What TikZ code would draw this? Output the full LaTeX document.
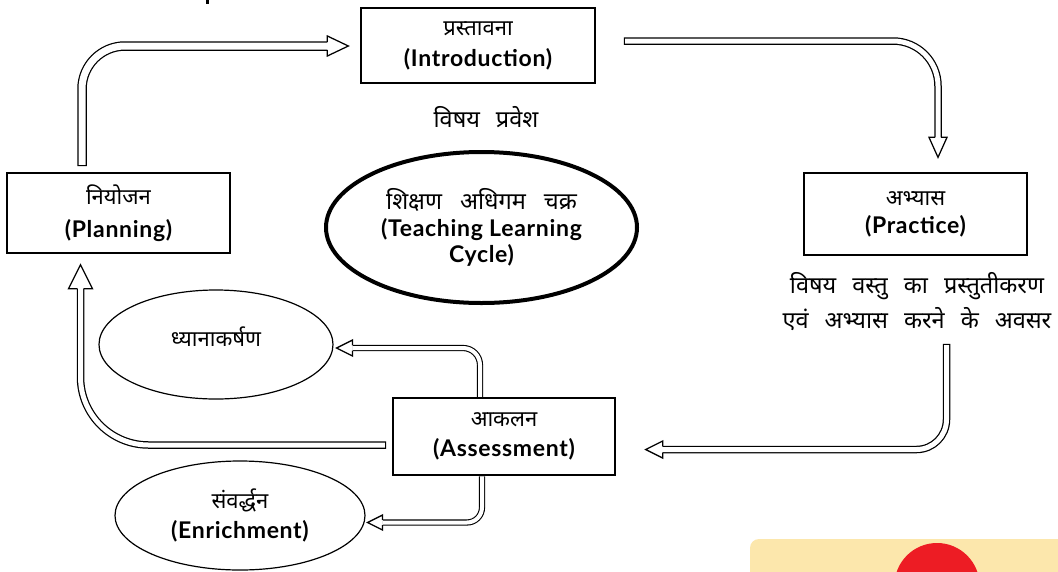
\documentclass[tikz,border=0pt]{standalone}
\usepackage{fontspec}
\setmainfont{Lato}
\newfontfamily\en{Lato}[LetterSpace=3.0]
\newfontfamily\dev[Script=Devanagari]{Noto Sans}
\usetikzlibrary{shapes.geometric,calc}
\definecolor{padyellow}{RGB}{252,231,172}
\definecolor{padred}{RGB}{237,28,36}
\newcommand\devsz{\dev\fontsize{22}{30}\selectfont}
\newcommand\devbig{\dev\fontsize{23.5}{30}\selectfont}
\newcommand\ensz{\en\bfseries\fontsize{23}{30}\selectfont}
\newcommand\wwsp{\hspace{16pt}}
\tikzset{
  box/.style={draw=black, line width=1.3pt, fill=white, rectangle, inner sep=0pt, align=center},
  oval/.style={draw=black, line width=1.2pt, ellipse, inner sep=0pt, align=center},
  plain/.style={inner sep=0pt, align=center},
  lsp/.style={font=\fontsize{22}{#1}\selectfont},
  pipe/.style={draw=black, double=white, line width=1.25pt, double distance=5pt, line cap=rect, line join=round},
  widepipe/.style={pipe, double distance=7pt},
  thinpipe/.style={pipe, line width=1.1pt, double distance=4pt, line cap=butt},
  head/.style={draw=black, fill=white, line width=1.25pt, line join=miter},
}
\begin{document}
\begin{tikzpicture}[x=1pt, y=-1pt]
\useasboundingbox (0,0) rectangle (1058,571);
\begin{scope}
\clip (0,0) rectangle (1058,571);
\fill[padyellow, rounded corners=9pt] (750,539) rectangle (1080,600);
\fill[padred] (937,585.6) circle[radius=42.6pt];
\fill[black] (205.5,0) rectangle (208.5,4);
\end{scope}

% nodes
\node[box, lsp=31, minimum width=234pt, minimum height=75pt] (intro) at (478,45.5)
  {\raisebox{-1.5pt}{\devsz प्रस्तावना}\\\raisebox{-1.5pt}{\ensz (Introduction)}};
\node[plain] (introsub) at (486,117) {\devbig विषय\wwsp प्रवेश};
\node[box, lsp=33, minimum width=223pt, minimum height=80pt] (plan) at (118.5,213)
  {{\devsz नियोजन}\\{\ensz (Planning)}};
\node[box, lsp=28, minimum width=223pt, minimum height=82pt] (prac) at (915.5,214)
  {{\devsz अभ्यास}\\{\ensz (Practice)}};
\node[plain, lsp=35] (pracsub) at (917,302)
  {{\devbig विषय\wwsp वस्तु\wwsp का\wwsp प्रस्तुतीकरण}\\{\devbig एवं\wwsp अभ्यास\wwsp करने\wwsp के\wwsp अवसर}};
\node[oval, lsp=26.5, line width=4pt, minimum width=311pt, minimum height=151pt] (cycle) at (481.5,227.5)
  {{\devbig शिक्षण\hspace{18pt}अधिगम\hspace{18pt}चक्र}\\{\ensz (Teaching Learning}\\{\ensz Cycle)}};
\node[oval, minimum width=234pt, minimum height=109pt] (dhyana) at (216,344.5)
  {\raisebox{16pt}{\devsz ध्यानाकर्षण}};
\node[box, lsp=29.5, minimum width=222pt, minimum height=77pt] (assess) at (504,436.5)
  {{\devsz आकलन}\\{\ensz (Assessment)}};
\node[oval, lsp=30, minimum width=250pt, minimum height=109pt] (enrich) at (240,515.5)
  {{\devsz संवर्द्धन}\\{\ensz (Enrichment)}};

% coordinates
\coordinate (s1) at ($(plan.north)+(-36.5,-11)$);
\coordinate (t1) at ($(intro.west)+(-12,0.5)$);
\coordinate (s2) at ($(intro.east)+(32,-4.5)$);
\coordinate (t2) at ($(prac.north)+(22.5,-15)$);
\coordinate (s3) at ($(prac.south)+(31,92)$);
\coordinate (t3) at ($(assess.east)+(30,13)$);
\coordinate (s4) at ($(assess.west)+(-10,8.5)$);
\coordinate (t4) at ($(plan.south)+(-38,11)$);
\coordinate (s5) at ($(assess.north)+(-24,-0.6)$);
\coordinate (t5) at ($(dhyana.east)+(3,3.5)$);
\coordinate (s6) at ($(assess.south)+(-22,0.6)$);
\coordinate (t6) at ($(enrich.east)+(2,7)$);

% connectors
\draw[widepipe, rounded corners=43pt] (s1) |- ($(t1)+(-21,0)$);
\filldraw[head] ($(t1)+(-21,-4.125)$) -- ($(t1)+(-21,-10)$) -- (t1) -- ($(t1)+(-21,10)$) -- ($(t1)+(-21,4.125)$);

\draw[pipe, rounded corners=45pt] (s2) -| ($(t2)+(0,-20)$);
\filldraw[head] ($(t2)+(-3.125,-20)$) -- ($(t2)+(-9,-20)$) -- (t2) -- ($(t2)+(9,-20)$) -- ($(t2)+(3.125,-20)$);

\draw[pipe, rounded corners=30pt] (s3) |- ($(t3)+(17,0)$);
\filldraw[head] ($(t3)+(17,-3.125)$) -- ($(t3)+(17,-8.5)$) -- (t3) -- ($(t3)+(17,8.5)$) -- ($(t3)+(17,3.125)$);

\draw[pipe, rounded corners=68pt] (s4) -| ($(t4)+(0,24)$);
\filldraw[head] ($(t4)+(-3.125,24)$) -- ($(t4)+(-12,24)$) -- (t4) -- ($(t4)+(12,24)$) -- ($(t4)+(3.125,24)$);

\draw[thinpipe, rounded corners=17pt] (s5) |- ($(t5)+(16,0)$);
\filldraw[head] ($(t5)+(16,-2.55)$) -- ($(t5)+(16,-8)$) -- (t5) -- ($(t5)+(16,8)$) -- ($(t5)+(16,2.55)$);

\draw[thinpipe, rounded corners=15pt] (s6) |- ($(t6)+(15,0)$);
\filldraw[head] ($(t6)+(15,-2.55)$) -- ($(t6)+(15,-7.5)$) -- (t6) -- ($(t6)+(15,7.5)$) -- ($(t6)+(15,2.55)$);
\end{tikzpicture}
\end{document}
